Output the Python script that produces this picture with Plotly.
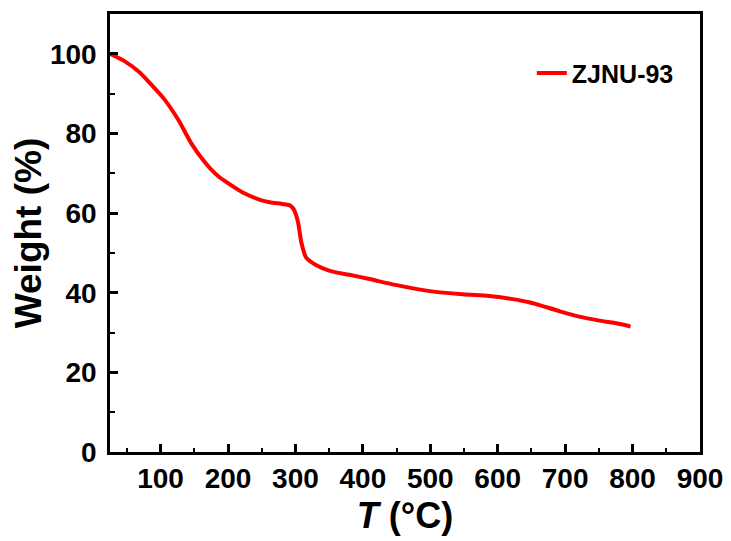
import plotly.graph_objects as go

series_name = "ZJNU-93"
temperature = [25, 47, 67, 86, 106, 126, 146, 166, 176, 186, 196, 225, 250, 262, 280, 291,
               297, 301, 304, 309, 316, 331, 351, 380, 408, 450, 499, 548, 588, 622,
               647, 662, 691, 721, 751, 780, 797]
weight = [100, 98.1, 95.6, 92.3, 88.5, 83.5, 77.4, 72.7, 70.8, 69.2, 68.0, 64.9, 63.2, 62.7,
          62.3, 62.0, 61.1, 59.5, 57.6, 52.5, 48.8, 46.9, 45.5, 44.5, 43.5, 41.9, 40.4,
          39.6, 39.2, 38.4, 37.6, 36.9, 35.4, 34.0, 33.0, 32.2, 31.5]
x_ticks = [100, 200, 300, 400, 500, 600, 700, 800, 900]
y_ticks = [0, 20, 40, 60, 80, 100]

FONT = "Liberation Sans, Arial, sans-serif"

fig = go.Figure()
fig.add_trace(go.Scatter(
    x=temperature, y=weight, mode="lines", name=series_name,
    line=dict(color="#ff0000", width=4, shape="spline", smoothing=0.8),
))

axis_common = dict(
    showline=True, linecolor="black", linewidth=2.5, mirror=True,
    ticks="inside", ticklen=8, tickwidth=2.5, tickcolor="black",
    showgrid=False, zeroline=False,
    tickfont=dict(family=FONT, size=28, color="black", weight="bold"),
)

fig.update_xaxes(
    range=[25, 900], tickvals=x_ticks, ticktext=[str(v) for v in x_ticks],
    minor=dict(ticks="inside", ticklen=4, tickwidth=2, tickcolor="black", dtick=50, tick0=0),
    title=dict(text="<i>T</i> (°C)", font=dict(family=FONT, size=36, color="black", weight="bold"),
               standoff=10),
    **axis_common,
)
fig.update_yaxes(
    range=[0, 110], tickvals=y_ticks, ticktext=[str(v) for v in y_ticks],
    minor=dict(ticks="inside", ticklen=5, tickwidth=2, tickcolor="black", dtick=10, tick0=0),
    title=dict(text="Weight (%)", font=dict(family=FONT, size=37, color="black", weight="bold"),
               standoff=4),
    ticklabelstandoff=5,
    **axis_common,
)

fig.update_layout(
    width=723, height=533,
    margin=dict(l=102, r=31, t=6, b=89, autoexpand=False),
    paper_bgcolor="white", plot_bgcolor="white",
    showlegend=True,
    legend=dict(x=0.715, y=0.865, xanchor="left", yanchor="middle",
                bgcolor="rgba(0,0,0,0)",
                font=dict(family=FONT, size=25, color="black", weight="bold")),
)

fig.write_html("out.html")
